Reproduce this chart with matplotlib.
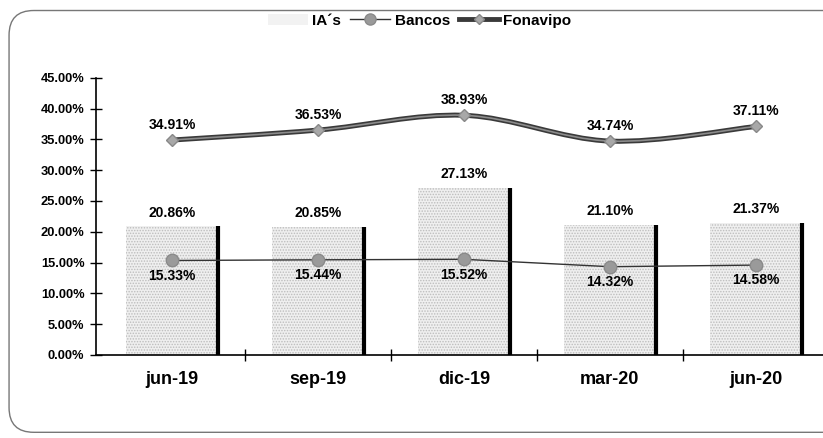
import matplotlib.pyplot as plt
from matplotlib.path import Path
from matplotlib.patches import PathPatch, FancyBboxPatch, Patch
from matplotlib.lines import Line2D
from matplotlib.ticker import FuncFormatter, FixedLocator

plt.rcParams['font.family'] = ['Liberation Sans', 'DejaVu Sans']
plt.rcParams['hatch.linewidth'] = 0.7
plt.rcParams['hatch.color'] = '#ababab'

periods = ['jun-19', 'sep-19', 'dic-19', 'mar-20', 'jun-20']
ias = [20.86, 20.85, 27.13, 21.10, 21.37]
bancos = [15.33, 15.44, 15.52, 14.32, 14.58]
fonavipo = [34.91, 36.53, 38.93, 34.74, 37.11]

x = list(range(len(periods)))
bar_w = 0.63

fig = plt.figure(figsize=(8.23, 4.38), dpi=100)
ax = fig.add_axes([0.117, 0.19, 0.89, 0.632])

# outer rounded frame
frame = FancyBboxPatch((0.011, 0.013), 1.05, 0.963, boxstyle='round,pad=0,rounding_size=0.03',
                       transform=fig.transFigure, fill=False, edgecolor='#777777', lw=1.0,
                       mutation_aspect=823 / 438)
fig.patches.append(frame)

# bars (stippled) with dark shadow edge on the right
ax.bar(x, ias, width=bar_w, color='#efefef', hatch='......', edgecolor='#bdbdbd', linewidth=0, zorder=1)
ax.vlines([i + bar_w / 2 for i in x], 0, ias, colors='black', lw=3, zorder=2)
for i, v in zip(x, ias):
    ax.annotate(f'{v:.2f}%', (i, v), xytext=(0, 5), textcoords='offset points',
                ha='center', va='bottom', fontsize=10, fontweight='bold')

# Bancos
ax.plot(x, bancos, color='#333333', lw=1.0, marker='o', ms=9, mfc='#9a9a9a', mec='#8a8a8a', zorder=4)
for i, v in zip(x, bancos):
    ax.annotate(f'{v:.2f}%', (i, v), xytext=(0, -6), textcoords='offset points',
                ha='center', va='top', fontsize=10, fontweight='bold')

# Fonavipo - smoothed line (Bezier through the points)
pts = list(zip(x, fonavipo))
verts = [pts[0]]
codes = [Path.MOVETO]
for k in range(len(pts) - 1):
    p0 = pts[k - 1] if k > 0 else pts[k]
    p1 = pts[k]
    p2 = pts[k + 1]
    p3 = pts[k + 2] if k + 2 < len(pts) else pts[k + 1]
    c1 = (p1[0] + (p2[0] - p0[0]) / 6, p1[1] + (p2[1] - p0[1]) / 6)
    c2 = (p2[0] - (p3[0] - p1[0]) / 6, p2[1] - (p3[1] - p1[1]) / 6)
    verts += [c1, c2, p2]
    codes += [Path.CURVE4] * 3
curve = Path(verts, codes)
ax.add_patch(PathPatch(curve, fill=False, edgecolor='#3a3a3a', lw=3.6, zorder=3))
ax.add_patch(PathPatch(curve, fill=False, edgecolor='#8c8c8c', lw=1.2, zorder=3))
ax.plot(x, fonavipo, ls='none', marker='D', ms=6, mfc='#a8a8a8', mec='#888888', zorder=5)
for i, v in zip(x, fonavipo):
    ax.annotate(f'{v:.2f}%', (i, v), xytext=(0, 6), textcoords='offset points',
                ha='center', va='bottom', fontsize=10, fontweight='bold')

# axes
ax.set_xlim(-0.52, 4.5)
ax.set_ylim(0, 45)
ax.yaxis.set_major_locator(FixedLocator([0, 5, 10, 15, 20, 25, 30, 35, 40, 45]))
ax.yaxis.set_major_formatter(FuncFormatter(lambda v, p: f'{v:.2f}%'))
ax.xaxis.set_major_locator(FixedLocator([0.5, 1.5, 2.5, 3.5]))
ax.xaxis.set_major_formatter(FuncFormatter(lambda v, p: ''))
ax.xaxis.set_minor_locator(FixedLocator(x))
ax.set_xticklabels(periods, minor=True)
ax.tick_params(axis='x', which='minor', length=0, pad=12)
ax.tick_params(axis='x', which='major', direction='inout', length=9, width=1)
ax.tick_params(axis='y', direction='inout', length=9, width=1, labelsize=9.3, pad=4)
for lab in ax.get_xticklabels(minor=True):
    lab.set_fontweight('bold')
    lab.set_family(['Liberation Sans Narrow', 'Liberation Sans', 'DejaVu Sans'])
    lab.set_fontsize(13)
for lab in ax.get_yticklabels():
    lab.set_fontweight('bold')
for s in ['top', 'right']:
    ax.spines[s].set_visible(False)
ax.spines['left'].set_linewidth(1.2)
ax.spines['bottom'].set_linewidth(1.2)

# legend
handles = [
    Patch(facecolor='#f2f2f2', hatch='......', edgecolor='#f2f2f2', linewidth=0),
    Line2D([], [], color='#333333', lw=1.0, marker='o', ms=8, mfc='#9a9a9a', mec='#8a8a8a'),
    Line2D([], [], color='#3a3a3a', lw=3.5, marker='D', ms=5, mfc='#a8a8a8', mec='#888888'),
]
fig.legend(handles, ['IA´s', 'Bancos', 'Fonavipo'], loc='center', bbox_to_anchor=(0.51, 0.953),
           ncol=3, frameon=False, handlelength=2.6, columnspacing=0.6, handletextpad=0.3,
           prop={'weight': 'bold', 'size': 11})

fig.savefig('out.png', dpi=100)
